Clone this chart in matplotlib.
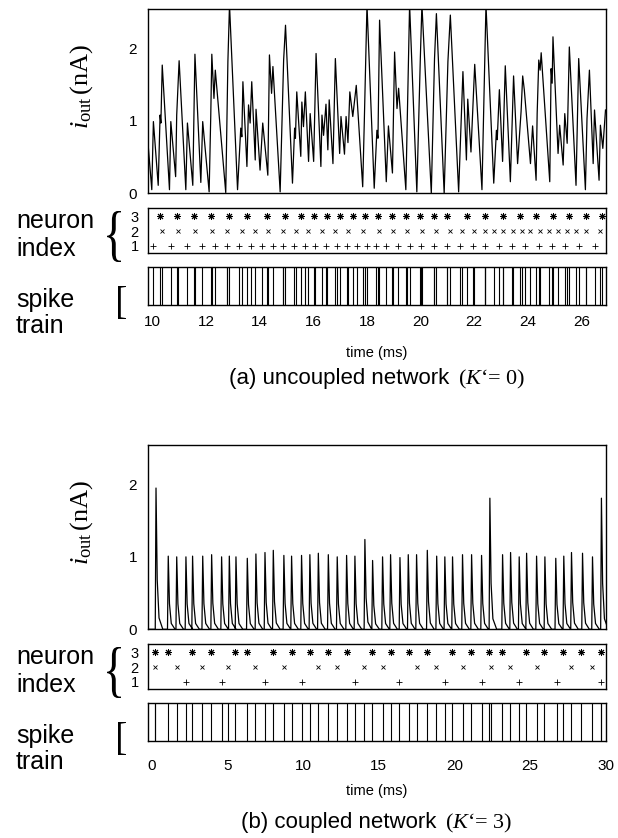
import numpy as np
import matplotlib
matplotlib.use('Agg')
import matplotlib.pyplot as plt
from matplotlib.textpath import TextPath
from matplotlib.patches import PathPatch
from matplotlib.font_manager import FontProperties
from matplotlib.transforms import Affine2D

plt.rcParams['font.family'] = 'Liberation Sans'
plt.rcParams['mathtext.fontset'] = 'custom'
plt.rcParams['mathtext.rm'] = 'Liberation Serif'
plt.rcParams['mathtext.it'] = 'Liberation Serif:italic'

# ---- (a) uncoupled network: i_out trace (turning points), time in ms, current in nA
a_trace_t = [9.84, 9.97, 10.03, 10.21, 10.28, 10.31, 10.36, 10.63, 10.68, 10.86, 10.90, 10.99,
             11.24, 11.30, 11.50, 11.58, 11.80, 11.87, 12.11, 12.17, 12.21, 12.29, 12.34,
             12.73, 12.81, 12.87, 13.17, 13.29, 13.33, 13.37, 13.52, 13.58, 13.64, 13.70,
             13.83, 13.86, 14.01, 14.11, 14.30, 14.36, 14.44, 14.49, 14.76, 14.89, 14.96,
             15.22, 15.30, 15.33, 15.38, 15.53, 15.57, 15.63, 15.70, 15.82, 15.88, 16.01,
             16.10, 16.28, 16.32, 16.38, 16.47, 16.54, 16.59, 16.73, 16.82, 16.98, 17.03,
             17.16, 17.22, 17.29, 17.36, 17.47, 17.60, 17.84, 17.90, 18.00,
             18.27, 18.37, 18.41, 18.47, 18.72, 18.80, 18.95, 18.99, 19.03, 19.12, 19.18,
             19.45, 19.59, 19.86, 19.99, 20.05, 20.40, 20.52, 20.59, 20.88, 21.02, 21.11,
             21.42, 21.51, 21.58, 21.71, 21.76, 21.88, 22.02, 22.29, 22.44, 22.73, 22.83,
             22.86, 22.94, 23.06, 23.16, 23.35, 23.47, 23.62, 23.75, 23.81, 23.87, 24.10,
             24.18, 24.31, 24.35, 24.41, 24.46, 24.50, 24.82, 24.87, 24.91, 24.94, 25.13,
             25.19, 25.32, 25.38, 25.47, 25.55, 25.80, 25.90, 26.15, 26.21, 26.30, 26.44,
             26.49, 26.66, 26.71, 26.80, 26.90]
a_trace_i = [0.64, 0.05, 0.99, 0.11, 1.08, 0.97, 1.77, 0.05, 0.99, 0.23, 1.08, 1.83,
             0.05, 0.97, 0.11, 1.92, 0.15, 0.99, 0.02, 1.06, 1.92, 1.31, 1.70,
             0.01, 1.82, 2.60, 0.05, 0.90, 0.78, 1.54, 0.37, 1.22, 0.97, 1.54,
             0.46, 1.16, 0.32, 0.97, 0.25, 1.91, 1.38, 1.75, 0.02, 1.84, 2.32,
             0.14, 0.90, 0.76, 1.40, 0.51, 1.26, 0.92, 1.40, 0.44, 1.10, 0.44,
             1.93, 0.37, 1.08, 0.80, 1.23, 0.60, 1.29, 0.41, 1.86, 0.55, 1.06,
             0.54, 1.06, 0.70, 1.40, 1.06, 1.49, 0.09, 0.99, 2.60,
             0.07, 0.87, 0.76, 2.39, 0.16, 0.93, 0.28, 1.15, 1.95, 1.17, 1.45,
             0.05, 2.60, 0.02, 1.86, 2.60, 0.00, 1.86, 2.48, 0.00, 1.82, 2.46,
             0.02, 0.94, 1.68, 0.46, 1.30, 0.57, 1.78, 0.05, 2.60, 0.14, 0.87,
             0.74, 1.43, 0.44, 1.76, 0.16, 1.62, 0.41, 1.13, 1.62, 1.43, 0.41,
             0.93, 0.18, 1.10, 1.84, 1.70, 1.94, 0.16, 1.72, 1.52, 2.16, 0.55,
             0.94, 0.39, 1.10, 0.69, 2.02, 0.11, 1.86, 0.05, 1.03, 1.70, 0.41,
             1.15, 0.18, 0.94, 0.62, 1.15]

# spike times of neurons 1..3 (ms)
a_n1 = [10.00, 10.67, 11.27, 11.83, 12.33, 12.79, 13.23, 13.66, 14.07, 14.48, 14.88, 15.28,
        15.69, 16.06, 16.47, 16.87, 17.25, 17.62, 17.99, 18.34, 18.72, 19.14, 19.59, 20.01,
        20.51, 21.00, 21.48, 21.95, 22.41, 22.91, 23.41, 23.91, 24.40, 24.90, 25.40, 25.90,
        26.49]
a_n2 = [10.34, 10.96, 11.58, 12.20, 12.79, 13.32, 13.82, 14.32, 14.86, 15.35, 15.81, 16.31,
        16.81, 17.31, 17.84, 18.43, 18.97, 19.51, 20.05, 20.58, 21.08, 21.54, 22.00, 22.41,
        22.75, 23.07, 23.45, 23.78, 24.09, 24.44, 24.78, 25.11, 25.47, 25.81, 26.18, 26.70]
a_n3 = [10.27, 10.90, 11.54, 12.17, 12.86, 13.53, 14.28, 14.94, 15.54, 16.02, 16.52, 16.99,
        17.47, 17.93, 18.40, 18.93, 19.45, 19.98, 20.51, 21.00, 21.73, 22.41, 23.07, 23.72,
        24.31, 24.94, 25.52, 26.18, 26.77]

# ---- (b) coupled network: i_out pulse peaks
b_peak_t = [0.26, 1.07, 1.63, 2.24, 2.68, 3.35, 3.94, 4.60, 5.11, 5.55, 6.30, 6.87, 7.47,
            8.02, 8.72, 9.23, 9.89, 10.44, 11.00, 11.66, 12.25, 12.87, 13.42, 14.08, 14.59,
            15.25, 15.78, 16.40, 16.95, 17.50, 18.21, 18.83, 19.37, 19.88, 20.54, 21.14,
            21.80, 22.35, 23.19, 23.72, 24.29, 24.78, 25.44, 25.99, 26.71, 27.24, 27.75,
            28.48, 29.14, 29.73]
b_peak_i = [1.95, 1.01, 1.00, 1.00, 1.01, 1.01, 1.03, 1.00, 1.01, 1.00, 0.98, 1.04, 1.06,
            1.09, 1.02, 1.01, 1.02, 1.03, 1.05, 1.03, 1.00, 1.02, 1.01, 1.24, 0.95,
            1.00, 1.03, 0.99, 1.03, 1.03, 1.09, 1.01, 1.00, 1.00, 1.03, 1.03,
            1.02, 1.81, 1.03, 1.06, 1.00, 1.05, 1.01, 1.00, 0.98, 1.01, 1.06,
            1.05, 1.00, 1.81]

b_n1 = [2.24, 4.60, 7.47, 9.90, 13.42, 16.35, 19.37, 21.80, 24.29, 26.76, 29.67]
b_n2 = [0.19, 1.63, 3.28, 5.04, 6.81, 8.72, 10.99, 12.25, 14.02, 15.25, 17.50, 18.78,
        20.58, 22.40, 23.67, 25.44, 27.69, 29.08]
b_n3 = [0.19, 1.07, 2.62, 3.90, 5.48, 6.30, 7.98, 9.23, 10.45, 11.65, 12.87, 14.53,
        15.78, 17.00, 18.20, 19.82, 21.07, 22.30, 23.16, 24.71, 25.92, 27.20, 28.41, 29.67]

W, H = 618, 838


def px_axes(fig, l, t, r, b):
    ax = fig.add_axes([l / W, 1 - b / H, (r - l) / W, (b - t) / H])
    for s in ax.spines.values():
        s.set_linewidth(1.0)
    return ax


def glyph(fig, ch, l, t, r, b):
    # draw a serif glyph stretched into a pixel box
    path = TextPath((0, 0), ch, size=100, prop=FontProperties(family='Liberation Serif'))
    ext = path.get_extents()
    tr = (Affine2D().translate(-ext.x0, -ext.y0)
          .scale((r - l) / ext.width, (b - t) / ext.height)
          .translate(l, H - b).scale(1.0 / W, 1.0 / H)) + fig.transFigure
    fig.add_artist(PathPatch(path, transform=tr, fc='black', lw=0))


def caption(fig, y, label, kpart):
    t1 = fig.text(0, 1 - y / H, label, fontsize=16, va='baseline', ha='left')
    t2 = fig.text(0, 1 - y / H, kpart, fontsize=16, va='baseline', ha='left',
                  family='Liberation Serif')
    r = fig.canvas.get_renderer()
    w1 = t1.get_window_extent(r).width
    w2 = t2.get_window_extent(r).width
    gap = 9
    x0 = 377 - (w1 + gap + w2) / 2
    t1.set_x(x0 / W)
    t2.set_x((x0 + w1 + gap) / W)


def panel(fig, dy, tt, ii, n1, n2, n3, xlim, xticks, tpad, ty, cy, label, kpart):
    right = 605.5
    ax = px_axes(fig, 148.3, 9.3 + dy, right, 193.3 + dy)
    ax.plot(tt, ii, color='black', lw=0.9)
    ax.set_xlim(xlim)
    ax.set_ylim(0, 2.54)
    ax.set_xticks([])
    ax.set_yticks([0, 1, 2])
    ax.tick_params(length=0, pad=8, labelsize=11)
    fig.text(82 / W, 1 - (86 + dy) / H, r'$i_{\rm out}\,(\rm nA)$', rotation=90,
             ha='center', va='center', fontsize=19)

    axr = px_axes(fig, 148.3, 207.7 + dy, right, 253 + dy)
    axr.plot(n3, [3] * len(n3), ls='none', marker=(8, 2, 0), ms=5, mew=0.7, color='black')
    axr.plot(n2, [2] * len(n2), ls='none', marker='x', ms=3.5, mew=0.6, color='black')
    axr.plot(n1, [1] * len(n1), ls='none', marker='+', ms=4, mew=0.6, color='black')
    axr.set_xlim(xlim)
    axr.set_ylim(0.5, 3.6)
    axr.set_xticks([])
    axr.set_yticks([1, 2, 3])
    axr.tick_params(length=0, pad=7, labelsize=10.5)

    axs = px_axes(fig, 148.3, 267 + dy, right, 305 + dy)
    spikes = sorted(n1 + n2 + n3)
    axs.vlines(spikes, 0, 1, color='black', lw=0.8)
    axs.set_xlim(xlim)
    axs.set_ylim(0, 1)
    axs.set_yticks([])
    axs.set_xticks(xticks)
    axs.tick_params(length=0, pad=tpad, labelsize=11)

    fig.text(16 / W, 1 - (221 + dy) / H, 'neuron', fontsize=18, va='center')
    fig.text(16 / W, 1 - (249 + dy) / H, 'index', fontsize=18, va='center')
    fig.text(16 / W, 1 - (300 + dy) / H, 'spike', fontsize=18, va='center')
    fig.text(16 / W, 1 - (326 + dy) / H, 'train', fontsize=18, va='center')
    glyph(fig, '{', 107, 211 + dy, 121, 262 + dy)
    glyph(fig, '[', 118, 286 + dy, 126, 319 + dy)

    fig.text(377 / W, 1 - ty / H, 'time (ms)', ha='center', va='center', fontsize=10.5)
    caption(fig, cy, label, kpart)


fig = plt.figure(figsize=(W / 100, H / 100), dpi=100)

panel(fig, 0, a_trace_t, a_trace_i, a_n1, a_n2, a_n3, (9.84, 26.9),
      [10, 12, 14, 16, 18, 20, 22, 24, 26], 7, 353, 384,
      '(a) uncoupled network', r'($K$‘= 0)')

# (b) trace: each pulse = fast rise, quick decay back to zero
b_t, b_i = [-0.25], [0.0]
for t, h in zip(b_peak_t, b_peak_i):
    b_t += [t - 0.05, t, t + 0.08, t + 0.2, t + 0.45]
    b_i += [0.0, h, 0.35 * h, 0.08 * h, 0.0]

panel(fig, 436, b_t, b_i, b_n1, b_n2, b_n3, (-0.25, 30.0),
      [0, 5, 10, 15, 20, 25, 30], 13, 791, 828,
      '(b) coupled network', r'($K$‘= 3)')

fig.savefig('out.png', dpi=100)
